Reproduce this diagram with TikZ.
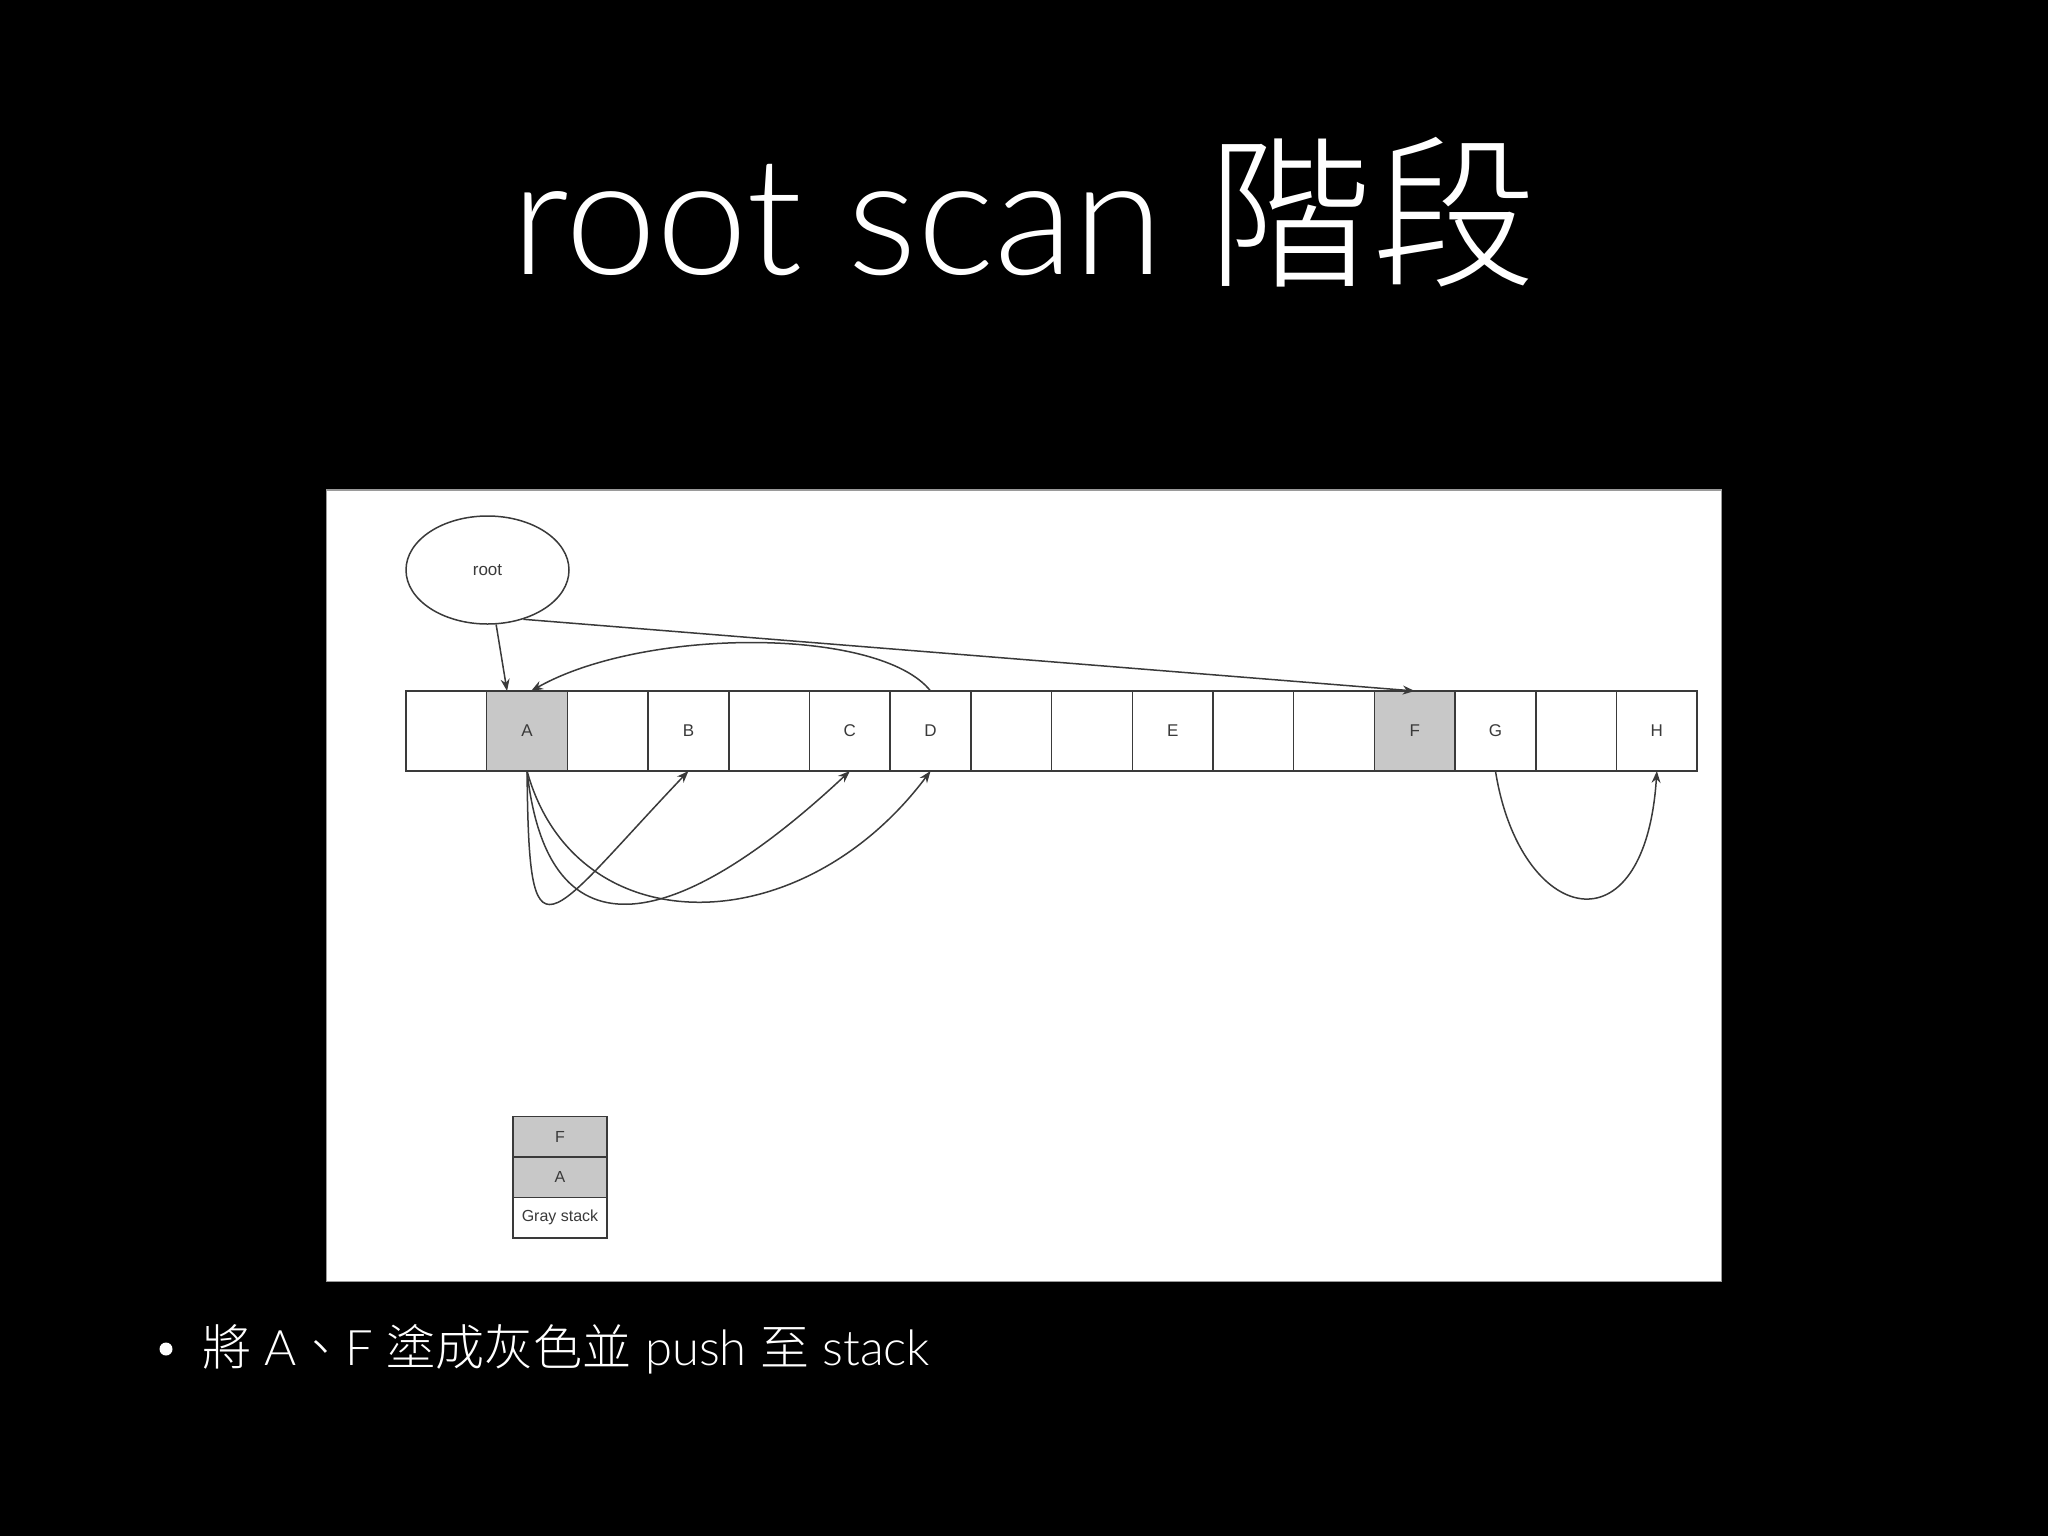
\documentclass[tikz,border=0pt]{standalone}
\usepackage{fontspec}
\setmainfont{Liberation Sans}
\newfontfamily\lightfont{Lato Light}
\newfontfamily\cjk{Noto Sans CJK TC Light}
\usetikzlibrary{shapes.geometric,arrows.meta,calc}
\definecolor{ln}{HTML}{3A3A3A}
\definecolor{gfill}{HTML}{C8C8C8}
\definecolor{panelborder}{HTML}{9A9A9A}
\tikzset{
  cellbox/.style={draw=ln, line width=0.75pt, minimum width=40.35pt, minimum height=40pt,
    inner sep=0pt, outer sep=0pt, font=\fontsize{8.5}{10}\selectfont, text=ln},
  graycell/.style={cellbox, fill=gfill},
  stackbox/.style={draw=ln, line width=0.75pt, minimum width=47pt, minimum height=20.25pt,
    inner sep=0pt, outer sep=0pt, font=\fontsize{8}{10}\selectfont, text=ln},
  rootnode/.style={ellipse, draw=ln, line width=0.75pt, minimum width=81.5pt, minimum height=54pt,
    inner sep=0pt, font=\fontsize{8.5}{10}\selectfont, text=ln},
  conn/.style={draw=ln, line width=0.75pt, -{Stealth[length=6pt,width=4.5pt]}},
  titletext/.style={text=white, font=\lightfont\fontsize{82}{90}\selectfont, anchor=base, inner sep=0pt},
  bullettext/.style={text=white, font=\lightfont\fontsize{24.5}{28}\selectfont, anchor=base west, inner sep=0pt},
}
\begin{document}
\begin{tikzpicture}[x=0.5pt, y=-0.5pt]
\useasboundingbox (0,0) rectangle (2048,1536);
\fill[black] (0,0) rectangle (2048,1536);
\filldraw[fill=white, draw=panelborder, line width=0.8pt] (326.5,489.8) rectangle (1721.4,1281.3);

% title
\node[titletext] (title) at (1024,274) {root scan {\cjk 階段}};

% bullet
\node[circle, fill=white, inner sep=0pt, minimum size=6.5pt] (bullet) at (166,1349) {};
\node[bullettext] (btext) at (202,1365) {{\cjk 將} A{\cjk 、}F {\cjk 塗成灰色並} push {\cjk 至} stack};

% root
\node[rootnode] (root) at (487.5,570) {root};

% cells
\foreach \i/\lab in {0/,2/,3/B,4/,5/C,6/D,7/,8/,9/E,10/,11/,13/G,14/,15/H}{
  \node[cellbox] (c\i) at ({406+(\i+0.5)*80.7},731) {\lab};
}
\node[graycell] (c1) at ({406+1.5*80.7},731) {A};
\node[graycell] (c12) at ({406+12.5*80.7},731) {F};

% stack
\node[stackbox, fill=gfill] (s1) at (560,1136.5) {F};
\node[stackbox, fill=gfill] (s2) at (560,1177) {A};
\node[stackbox, fill=white] (s3) at (560,1217.5) {Gray stack};

% connectors
\draw[conn] (root.-81) -- ($(c1.north)+(-20,0)$);
\draw[conn] (root.-54) -- (c12.north);
\draw[conn] (c6.north) .. controls (880,627) and (644,627) .. ($(c1.north)+(4,0)$);
\draw[conn] (c1.south) .. controls (529,971) and (543,924) .. (c3.south);
\draw[conn] (c1.south) .. controls (548,965) and (680,930) .. (c5.south);
\draw[conn] (c1.south) .. controls (575,945) and (800,945) .. (c6.south);
\draw[conn] (c13.south) .. controls (1520,925) and (1645,955) .. (c15.south);
\end{tikzpicture}
\end{document}
